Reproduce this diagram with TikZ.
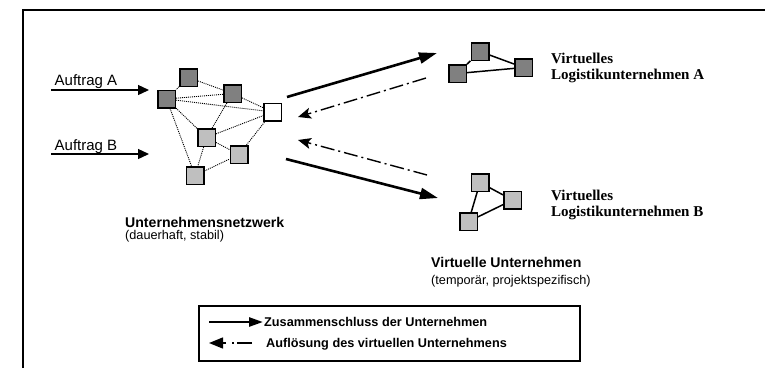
\documentclass[tikz,border=0pt]{standalone}
\usepackage{fontspec}
\setmainfont{Liberation Sans}
\newfontfamily\serifbold{Liberation Serif}
\usetikzlibrary{arrows.meta}
\begin{document}
\begin{tikzpicture}[x=1pt,y=-1pt,
  sq/.style={draw, line width=1.5pt, minimum size=17.5pt, inner sep=0pt},
  dk/.style={sq, fill=black!50},
  lt/.style={sq, fill=black!25},
  wt/.style={sq, fill=white},
  net/.style={line width=0.9pt, dash pattern=on 1pt off 1pt},
  grp/.style={line width=1.5pt},
  joinarrow/.style={line width=2.6pt, -{Triangle[length=18pt,width=11pt]}},
  splitarrow/.style={line width=1.4pt, dash pattern=on 14pt off 4pt on 2pt off 4pt, -{Stealth[length=13pt,width=11pt,inset=3pt]}},
  orderarrow/.style={line width=1.3pt, -{Triangle[length=11pt,width=10pt]}},
  lbl/.style={inner sep=0pt, anchor=base west},
]
\useasboundingbox (0,0) rectangle (765,368);
% frame (top and left visible)
\coordinate (fTL) at (23,10);
\coordinate (fTR) at (765,10);
\coordinate (fBL) at (23,368);
\draw[line width=1.8pt] (fBL) -- (fTL) -- (fTR);

% network nodes
\node[dk] (n1) at (188.5,77.5) {};
\node[dk] (n2) at (166.5,99) {};
\node[dk] (n3) at (232.5,93.5) {};
\node[wt] (n4) at (272.5,112) {};
\node[lt] (n5) at (206.5,137.5) {};
\node[lt] (n6) at (239,154.5) {};
\node[lt] (n7) at (195,175.5) {};
\draw[net] (n1) -- (n2);
\draw[net] (n1) -- (n3);
\draw[net] (n2) -- (n3);
\draw[net] (n2) -- (n4);
\draw[net] (n3) -- (n4);
\draw[net] (n2) -- (n5);
\draw[net] (n2) -- (n7);
\draw[net] (n3) -- (n5);
\draw[net] (n5) -- (n4);
\draw[net] (n5) -- (n6);
\draw[net] (n5) -- (n7);
\draw[net] (n6) -- (n4);
\draw[net] (n7) -- (n6);

% orders
\coordinate (aS) at (51,90);
\coordinate (aE) at (149,90);
\coordinate (bS) at (51,154);
\coordinate (bE) at (149,154);
\draw[orderarrow] (aS) -- (aE);
\draw[orderarrow] (bS) -- (bE);
\node[lbl, font=\fontsize{15}{17}\selectfont] (ta) at (54.5,85.5) {Auftrag A};
\node[lbl, font=\fontsize{15}{17}\selectfont] (tb) at (54.5,150.5) {Auftrag B};

% network labels
\node[lbl, font=\fontsize{14.1}{17}\selectfont\bfseries] (tnet) at (125,227) {Unternehmensnetzwerk};
\node[lbl, font=\fontsize{12.7}{15}\selectfont] (tnet2) at (125,239) {(dauerhaft, stabil)};

% virtual company A
\node[dk] (a1) at (480,51.5) {};
\node[dk] (a2) at (457.5,73.5) {};
\node[dk] (a3) at (523.5,67.5) {};
\draw[grp] (a1) -- (a2);
\draw[grp] (a1) -- (a3);
\draw[grp] (a2) -- (a3);
\node[lbl, font=\serifbold\bfseries\fontsize{15}{17}\selectfont] (tva1) at (551,63) {Virtuelles};
\node[lbl, font=\serifbold\bfseries\fontsize{15}{17}\selectfont] (tva2) at (551,79.5) {Logistikunternehmen A};

% virtual company B
\node[lt] (b1) at (480,182.5) {};
\node[lt] (b2) at (512.5,200) {};
\node[lt] (b3) at (468.5,221.5) {};
\draw[grp] (b1) -- (b2);
\draw[grp] (b1) -- (b3);
\draw[grp] (b3) -- (b2);
\node[lbl, font=\serifbold\bfseries\fontsize{15}{17}\selectfont] (tvb1) at (551,200.5) {Virtuelles};
\node[lbl, font=\serifbold\bfseries\fontsize{15}{17}\selectfont] (tvb2) at (551,216.7) {Logistikunternehmen B};

\node[lbl, font=\fontsize{14.1}{17}\selectfont\bfseries] (tvu) at (431,267) {Virtuelle Unternehmen};
\node[lbl, font=\fontsize{12.7}{15}\selectfont] (tvu2) at (431,284) {(temporär, projektspezifisch)};

% big arrows
\coordinate (j1s) at (287,97);
\coordinate (j1e) at (437,53);
\coordinate (s1s) at (426,78);
\coordinate (s1e) at (298,117);
\coordinate (s2s) at (427,175);
\coordinate (s2e) at (298,140);
\coordinate (j2s) at (286,159);
\coordinate (j2e) at (438,198);
\draw[joinarrow] (j1s) -- (j1e);
\draw[splitarrow] (s1s) -- (s1e);
\draw[splitarrow] (s2s) -- (s2e);
\draw[joinarrow] (j2s) -- (j2e);

% legend
\node[draw, line width=1.2pt, minimum width=381pt, minimum height=55pt, inner sep=0pt] (leg) at (389.5,333.5) {};
\coordinate (l1s) at (209,322);
\coordinate (l1e) at (263,322);
\coordinate (l2s) at (252,343);
\coordinate (l2e) at (209,343);
\draw[line width=2.6pt, -{Triangle[length=14pt,width=9pt]}] (l1s) -- (l1e);
\draw[line width=1.4pt, dash pattern=on 15pt off 3pt on 2pt off 6pt, -{Triangle[length=14pt,width=11pt]}] (l2s) -- (l2e);
\node[lbl, font=\fontsize{12.7}{15}\selectfont\bfseries] (tl1) at (264,326.5) {Zusammenschluss der Unternehmen};
\node[lbl, font=\fontsize{12.7}{15}\selectfont\bfseries] (tl2) at (266,347) {Auflösung des virtuellen Unternehmens};
\end{tikzpicture}
\end{document}
